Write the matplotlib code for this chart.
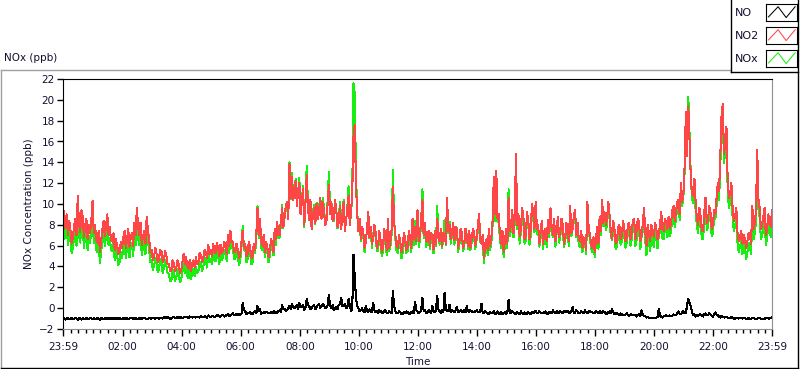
import numpy as np
import matplotlib
matplotlib.use("Agg")
import matplotlib.pyplot as plt

matplotlib.rcParams['font.family'] = 'DejaVu Sans'
matplotlib.rcParams['font.size'] = 7.5

# minutes since 23:59: main samples every 5 minutes, plus readings halfway between
minutes = np.arange(0, 1441, 5)
minutes_mid = np.arange(2.5, 1440, 5)

# NO2 (ppb)
no2 = [
    10.5, 8.2, 7.0, 7.6, 6.8, 8.6, 10.8, 7.3, 8.8, 7.9, 6.6, 7.2,
    10.3, 8.0, 6.3, 5.4, 7.6, 6.9, 9.0, 7.8, 6.4, 5.6, 6.0, 5.4,
    5.8, 7.4, 6.6, 5.9, 7.2, 8.2, 9.6, 7.0, 6.1, 7.4, 8.8, 6.6,
    5.6, 5.0, 5.2, 4.8, 5.4, 4.7, 5.0, 4.2, 3.6, 4.3, 3.8, 4.2,
    3.6, 5.2, 4.9, 3.8, 3.6, 4.6, 4.9, 4.4, 5.1, 4.8, 5.4, 6.1,
    5.6, 6.2, 5.3, 5.8, 6.1, 5.5, 5.9, 7.0, 7.4, 6.3, 5.4, 5.6,
    5.2, 7.4, 6.2, 5.2, 5.8, 5.0, 5.6, 9.6, 8.6, 6.0, 5.4, 5.8,
    5.5, 6.2, 7.6, 8.3, 7.0, 9.6, 8.8, 10.2, 13.8, 12.6, 11.0, 9.8,
    12.0, 10.2, 8.0, 12.8, 8.5, 7.6, 9.6, 10.0, 9.2, 8.6, 9.4, 8.3,
    11.8, 10.2, 8.6, 9.4, 8.2, 7.6, 10.2, 8.4, 10.8, 9.2, 16.5, 12.0,
    7.4, 6.6, 7.2, 6.4, 9.2, 7.8, 6.6, 7.2, 6.0, 6.5, 5.9, 6.8,
    8.6, 6.4, 11.6, 7.0, 5.8, 6.4, 6.0, 6.6, 5.9, 6.8, 8.6, 7.8,
    9.4, 7.0, 10.4, 8.2, 6.6, 6.0, 6.9, 7.4, 8.6, 6.4, 6.0, 7.0,
    10.6, 8.0, 7.2, 6.5, 7.6, 6.4, 7.3, 6.2, 6.9, 7.4, 6.6, 7.2,
    6.8, 9.0, 6.2, 4.8, 6.6, 7.6, 6.8, 12.6, 13.2, 9.0, 6.2, 5.4,
    7.6, 10.6, 8.0, 7.2, 14.8, 9.0, 7.6, 8.8, 7.0, 8.4, 7.6, 9.2,
    10.2, 8.0, 7.4, 6.2, 7.6, 8.5, 9.6, 7.0, 6.4, 8.8, 7.2, 8.0,
    6.8, 7.4, 9.8, 7.6, 9.4, 8.2, 6.4, 5.8, 6.6, 10.2, 7.0, 5.8,
    5.4, 7.8, 8.8, 10.4, 9.2, 8.6, 9.0, 6.6, 7.6, 6.4, 8.0, 7.0,
    7.6, 6.8, 8.2, 7.2, 8.6, 7.4, 8.2, 7.0, 9.6, 6.0, 7.2, 8.0,
    6.8, 7.6, 7.0, 9.2, 7.4, 8.2, 8.8, 8.2, 9.8, 9.2, 10.4, 12.0,
    11.0, 18.8, 19.4, 12.6, 10.8, 10.0, 8.0, 8.8, 7.4, 10.6, 8.4, 9.2,
    8.0, 9.0, 12.0, 14.6, 19.6, 16.0, 12.2, 11.0, 9.6, 8.8, 7.2, 6.8,
    6.2, 6.6, 6.4, 7.0, 9.8, 8.2, 15.2, 9.6, 8.0, 9.6, 7.6, 8.4, 9.4,
]
no2_mid = [
    7.6, 9.0, 8.4, 6.2, 7.8, 7.0, 8.0, 9.4, 6.8, 8.6, 8.0, 8.4,
    7.2, 6.6, 7.4, 6.4, 8.4, 8.0, 7.0, 6.6, 7.2, 6.6, 5.2, 6.4,
    6.8, 5.8, 7.6, 6.8, 6.0, 7.0, 7.8, 8.2, 6.9, 6.2, 7.4, 5.4,
    4.6, 5.8, 4.4, 5.6, 4.4, 5.5, 4.2, 3.6, 4.6, 3.6, 4.6, 3.4,
    4.4, 4.2, 4.0, 4.6, 4.3, 3.9, 4.2, 5.3, 4.4, 5.6, 4.8, 5.2,
    5.0, 5.4, 6.3, 5.0, 5.3, 6.4, 5.2, 6.0, 6.4, 5.4, 6.2, 4.8,
    6.4, 5.8, 5.0, 6.4, 4.8, 6.2, 7.0, 7.0, 6.4, 7.0, 6.4, 4.9,
    6.6, 5.4, 6.6, 7.0, 8.4, 7.8, 9.8, 8.6, 10.6, 10.4, 12.2, 11.2,
    9.0, 11.4, 10.2, 9.6, 10.4, 9.0, 8.2, 8.6, 10.6, 10.2, 8.0, 10.0,
    9.0, 8.4, 10.4, 7.8, 9.8, 9.0, 7.4, 9.6, 8.0, 11.2, 17.6, 9.0,
    8.6, 7.8, 5.8, 7.6, 6.8, 6.2, 8.0, 5.8, 7.4, 5.4, 7.6, 5.6,
    5.8, 7.6, 8.2, 6.0, 7.0, 5.4, 7.2, 5.6, 7.4, 5.8, 6.6, 6.4,
    6.4, 8.6, 7.0, 6.4, 7.4, 7.2, 5.6, 6.2, 6.8, 7.6, 7.2, 6.2,
    7.4, 6.6, 8.2, 7.8, 5.8, 7.6, 5.8, 7.6, 6.0, 5.8, 7.6, 6.0,
    7.8, 6.6, 7.0, 6.2, 5.6, 6.0, 8.4, 9.0, 8.6, 7.0, 7.4, 6.4,
    6.2, 7.4, 9.4, 8.8, 8.0, 6.8, 9.6, 6.6, 9.2, 6.6, 10.0, 7.6,
    7.6, 6.2, 8.4, 7.4, 6.4, 7.2, 7.8, 8.6, 7.4, 6.8, 8.6, 6.2,
    8.2, 6.4, 7.2, 8.8, 7.0, 6.6, 7.4, 6.8, 5.6, 7.8, 6.2, 6.8,
    6.6, 6.2, 7.4, 8.2, 8.0, 10.2, 7.4, 8.4, 6.2, 7.8, 6.6, 8.4,
    6.4, 8.0, 6.6, 8.4, 6.6, 8.6, 6.4, 8.0, 7.4, 8.0, 6.4, 7.4,
    8.2, 6.6, 8.0, 7.6, 8.6, 7.6, 7.6, 9.4, 8.4, 10.2, 9.0, 10.2,
    13.6, 14.6, 16.2, 11.0, 12.4, 8.6, 9.6, 7.4, 9.2, 8.2, 9.8, 7.6,
    9.4, 10.6, 11.2, 18.4, 14.8, 17.4, 10.6, 12.0, 8.4, 9.6, 6.4, 7.4,
    7.0, 5.8, 7.2, 6.2, 7.6, 9.4, 10.4, 7.6, 8.8, 7.0, 9.0, 7.8,
]

# NO (ppb)
no = [
    -1.0, -1.1, -0.95, -1.05, -1.0, -0.9, -1.1, -1.0, -0.95, -1.05, -1.0, -0.9,
    -1.05, -1.0, -0.95, -1.1, -1.0, -0.95, -1.0, -1.05, -0.9, -1.0, -1.0, -0.95,
    -1.0, -1.05, -0.95, -1.0, -0.9, -1.0, -1.05, -0.95, -1.0, -0.9, -1.0, -0.95,
    -1.0, -0.95, -0.9, -1.0, -0.95, -0.85, -0.95, -0.9, -1.0, -0.85, -0.9, -0.95,
    -0.85, -0.9, -0.8, -0.95, -0.85, -0.8, -0.9, -0.85, -0.75, -0.85, -0.8, -0.7,
    -0.85, -0.75, -0.8, -0.7, -0.8, -0.65, -0.75, -0.6, -0.7, -0.5, -0.65, -0.55,
    -0.6, 0.5, -0.3, -0.5, -0.4, -0.55, -0.3, 0.2, -0.1, -0.45, -0.5, -0.4,
    -0.45, -0.5, -0.35, -0.4, -0.2, 0.3, -0.1, -0.2, 0.2, 0.4, 0.0, 0.3,
    0.5, 0.1, -0.2, 0.9, 0.2, 0.0, 0.3, 0.1, 0.4, 0.2, 0.3, 0.1,
    1.3, 0.0, -0.2, 0.1, 0.3, 1.0, 0.2, 0.0, 0.9, -0.3, 5.1, 1.0,
    0.0, -0.2, -0.3, 0.2, -0.4, -0.3, 0.5, -0.4, -0.5, -0.3, -0.5, -0.2,
    -0.5, -0.4, 1.7, -0.3, -0.5, -0.4, -0.6, -0.5, -0.4, -0.5, -0.3, 0.6,
    -0.3, -0.4, 1.0, -0.2, -0.4, -0.3, 0.2, -0.4, 1.2, -0.3, -0.2, 1.5,
    -0.3, 0.3, -0.2, -0.4, 0.1, -0.3, -0.4, -0.2, 0.2, -0.4, -0.3, -0.4,
    -0.2, -0.4, 0.4, -0.5, -0.4, -0.6, -0.5, -0.3, -0.5, -0.6, -0.4, -0.5,
    -0.6, 0.8, -0.5, -0.4, -0.6, -0.5, -0.3, -0.6, -0.5, -0.4, -0.6, -0.5,
    -0.3, -0.5, -0.4, -0.5, -0.3, -0.6, -0.4, -0.2, -0.5, -0.4, -0.3, -0.5,
    -0.4, -0.3, -0.5, 0.1, -0.4, -0.3, -0.5, -0.4, -0.2, -0.5, -0.3, -0.4,
    -0.5, -0.4, -0.3, -0.5, -0.4, -0.6, -0.3, -0.1, -0.6, -0.5, -0.7, -0.6,
    -0.7, -0.5, -0.75, -0.6, -0.7, -0.8, -0.6, -0.2, -0.75, -0.9, -0.95, -0.9,
    -0.95, -0.9, -0.1, -0.85, -0.8, -0.7, -0.75, -0.8, -0.6, -0.7, -0.3, -0.6,
    -0.3, -0.5, 0.85, 0.2, -0.7, -0.8, -0.75, -0.6, -0.8, -0.5, -0.7, -0.6,
    -0.8, -0.4, -0.7, -0.9, -0.8, -0.85, -0.9, -0.95, -0.9, -1.0, -0.95, -0.9,
    -1.0, -0.95, -1.05, -1.0, -0.9, -1.0, -1.05, -0.95, -1.0, -1.05, -0.9, -1.0, -0.9,
]
no_mid = [
    -0.95, -1.0, -1.05, -0.9, -1.05, -1.0, -0.95, -1.1, -1.0, -0.95, -1.05, -1.0,
    -0.95, -1.05, -1.0, -0.95, -1.05, -1.0, -0.95, -1.0, -1.05, -0.95, -1.05, -1.0,
    -0.95, -1.0, -1.05, -0.95, -1.0, -0.95, -1.0, -1.05, -0.95, -1.0, -1.05, -1.0,
    -0.9, -1.0, -0.95, -0.9, -1.0, -0.9, -0.85, -1.0, -0.9, -0.95, -0.85, -0.9,
    -0.95, -0.85, -0.9, -0.8, -0.9, -0.85, -0.8, -0.9, -0.85, -0.8, -0.9, -0.8,
    -0.75, -0.85, -0.7, -0.8, -0.7, -0.8, -0.65, -0.75, -0.6, -0.7, -0.55, -0.7,
    -0.5, -0.2, -0.6, -0.45, -0.6, -0.35, -0.5, -0.3, -0.55, -0.4, -0.35, -0.5,
    -0.4, -0.3, -0.5, -0.3, -0.4, -0.1, -0.3, 0.0, -0.1, 0.1, 0.2, -0.1,
    0.2, 0.3, 0.1, 0.3, -0.1, 0.2, -0.1, 0.3, 0.0, 0.4, 0.0, 0.3,
    0.2, 0.3, 0.0, -0.1, 0.4, 0.2, 0.4, 0.1, 0.3, 0.0, 3.0, 0.2,
    -0.3, 0.0, -0.4, -0.2, -0.1, -0.4, -0.2, -0.3, -0.2, -0.4, -0.3, -0.5,
    -0.3, -0.5, 0.2, -0.5, -0.3, -0.6, -0.4, -0.3, -0.6, -0.4, -0.5, -0.2,
    -0.5, -0.2, -0.3, -0.5, -0.2, -0.5, -0.3, -0.2, -0.1, -0.5, -0.4, -0.1,
    -0.2, -0.4, -0.3, -0.2, -0.4, -0.2, -0.3, -0.4, -0.3, -0.2, -0.4, -0.3,
    -0.4, -0.3, -0.5, -0.3, -0.5, -0.4, -0.4, -0.6, -0.3, -0.5, -0.6, -0.4,
    -0.4, -0.5, -0.3, -0.5, -0.4, -0.6, -0.5, -0.4, -0.6, -0.5, -0.4, -0.3,
    -0.5, -0.3, -0.5, -0.4, -0.5, -0.4, -0.5, -0.4, -0.3, -0.5, -0.4, -0.3,
    -0.3, -0.4, -0.3, -0.5, -0.2, -0.5, -0.3, -0.5, -0.4, -0.3, -0.4, -0.5,
    -0.3, -0.5, -0.4, -0.3, -0.5, -0.4, -0.5, -0.4, -0.5, -0.6, -0.5, -0.7,
    -0.6, -0.65, -0.6, -0.7, -0.65, -0.7, -0.75, -0.6, -0.8, -0.85, -0.9, -0.95,
    -0.9, -0.85, -0.7, -0.9, -0.75, -0.8, -0.7, -0.75, -0.65, -0.5, -0.55, -0.4,
    -0.5, 0.3, 0.5, -0.4, -0.6, -0.7, -0.6, -0.7, -0.6, -0.7, -0.5, -0.7,
    -0.6, -0.65, -0.8, -0.75, -0.9, -0.8, -0.95, -0.85, -1.0, -0.9, -1.0, -0.95,
    -0.9, -1.05, -0.95, -1.05, -0.95, -1.05, -0.9, -1.0, -1.05, -0.9, -1.0, -0.95,
]

# merge both sets of readings into one time-ordered series
t = np.concatenate([minutes, minutes_mid])
order = np.argsort(t)
t = t[order]
no2_all = np.concatenate([no2, no2_mid])[order]
no_all = np.concatenate([no, no_mid])[order]
nox_all = no2_all + no_all  # NOx = NO + NO2

tick_pos = [0, 121, 241, 361, 481, 601, 721, 841, 961, 1081, 1201, 1321, 1440]
tick_lab = ['23:59', '02:00', '04:00', '06:00', '08:00', '10:00', '12:00',
            '14:00', '16:00', '18:00', '20:00', '22:00', '23:59']

txt = '#101030'
W, H = 800, 369
fig = plt.figure(figsize=(8, 3.69), dpi=100)

# outer frame lines (figure pixel coords)
def fline(xs, ys, c, lw=1.0):
    fig.add_artist(plt.Line2D([x / W for x in xs], [1 - y / H for y in ys],
                              color=c, lw=lw, transform=fig.transFigure))

fline([0.5, 730], [69.5, 69.5], '#a0a0a0')
fline([0.5, 0.5], [69.5, 367.5], '#a0a0a0')
fline([0.5, 797.5], [367.5, 367.5], '#000000')
fline([797.5, 797.5], [0, 367.5], '#000000')
fline([730.5, 730.5], [0, 72], '#000000')
fline([730.5, 797.5], [72, 72], '#000000')

fig.text(4 / W, 1 - 58 / H, 'NOx (ppb)', color=txt, va='center', ha='left')

ax = fig.add_axes([63 / W, 1 - 329 / H, 709 / W, 250 / H])
ax.plot(t, no_all, color='black', lw=0.75, antialiased=False)
ax.plot(t, nox_all, color='#18ee10', lw=0.75, antialiased=False)
ax.plot(t, no2_all, color='#ff4646', lw=0.75, antialiased=False)

ax.set_xlim(0, 1440)
ax.set_ylim(-2, 22)
ax.set_yticks(range(-2, 23, 2))
ax.set_xticks(tick_pos)
ax.set_xticklabels(tick_lab)
ax.set_xticks([121 + 15 * k for k in range(-7, 89) if 0 < 121 + 15 * k < 1440], minor=True)
ax.tick_params(axis='both', colors='black', labelcolor=txt, labelsize=7.5, width=1)
ax.tick_params(axis='x', which='major', length=5, pad=4)
ax.tick_params(axis='x', which='minor', length=3, width=1)
ax.tick_params(axis='y', length=4, pad=2)
ax.spines['top'].set_color('black')
ax.spines['left'].set_color('black')
ax.spines['right'].set_color('#909090')
ax.spines['bottom'].set_color('#909090')
ax.set_ylabel('NOx Concentration (ppb)', color=txt, labelpad=4)
ax.set_xlabel('Time', color=txt, labelpad=4)

# legend drawn by hand like the original panel
names = ['NO', 'NO2', 'NOx']
cols = ['black', '#ff4646', '#18ee10']
rows = [4, 27, 50]
for name, c, top in zip(names, cols, rows):
    fig.text(735 / W, 1 - (top + 9) / H, name, color=txt, va='center', ha='left', fontsize=8)
    bx = fig.add_axes([766 / W, 1 - (top + 17) / H, 31 / W, 17 / H])
    bx.plot([0.08, 0.39, 0.65, 0.94], [0.24, 0.84, 0.2, 0.84], color=c, lw=0.75)
    bx.set_xlim(0, 1)
    bx.set_ylim(0, 1)
    bx.set_xticks([])
    bx.set_yticks([])
    for s in bx.spines.values():
        s.set_color('black')
        s.set_linewidth(0.8)

fig.savefig('out.png', dpi=100)
